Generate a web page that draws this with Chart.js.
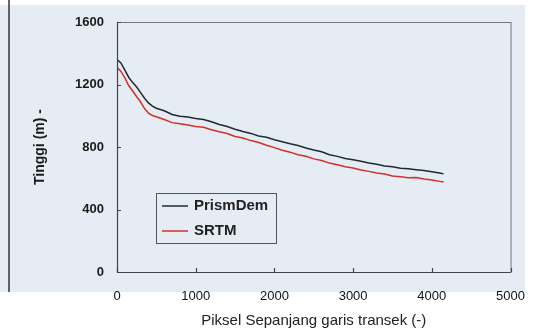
<!DOCTYPE html>
<html>
<head>
<meta charset="utf-8">
<script src="https://cdn.jsdelivr.net/npm/chart.js@4"></script>
<style>
  html, body { margin: 0; padding: 0; background: #fff; }
  #wrap { width: 542px; height: 335px; }
</style>
</head>
<body>
<div id="wrap"><canvas id="chart" width="542" height="335"></canvas></div>
<script>
// pixel positions along the transect
const pixelPos = [0, 50, 100, 150, 200, 250, 300, 350, 400, 450, 500, 600, 700, 800, 900, 1000,
    1100, 1200, 1300, 1400, 1500, 1600, 1700, 1800, 1900, 2000, 2100, 2200, 2300, 2400, 2500,
    2600, 2700, 2800, 2900, 3000, 3100, 3200, 3300, 3400, 3500, 3600, 3700, 3800, 3900, 4000,
    4100, 4150];

// elevation (m)
const prismDem = [1360, 1338, 1292, 1245, 1212, 1184, 1148, 1112, 1082, 1062, 1048, 1032, 1008, 997,
    992, 983, 976, 962, 944, 931, 914, 899, 887, 871, 862, 846, 834, 821, 810, 794, 781,
    770, 751, 740, 727, 718, 709, 698, 690, 679, 673, 664, 661, 655, 649, 641, 633, 628];

const srtm = [1310, 1284, 1242, 1192, 1158, 1122, 1088, 1046, 1016, 1002, 994, 976, 956, 949,
    941, 931, 926, 911, 897, 886, 867, 857, 841, 829, 811, 796, 779, 767, 751, 741, 724,
    713, 697, 686, 673, 665, 653, 644, 633, 627, 615, 609, 603, 604, 595, 589, 580, 576];

const xTicks = [0, 1000, 2000, 3000, 4000, 5000];
const yTicks = [0, 400, 800, 1200, 1600];

const seriesNames = ['PrismDem', 'SRTM'];
const seriesColors = ['#1f2b31', '#d2302b'];

function toPoints(values) {
    return pixelPos.map((x, i) => ({ x: x, y: values[i] }));
}

// page background, scan margin line
const pagePlugin = {
    id: 'page',
    beforeDraw(chart) {
        const ctx = chart.ctx;
        ctx.save();
        ctx.fillStyle = '#ffffff';
        ctx.fillRect(0, 0, chart.width, chart.height);
        ctx.fillStyle = '#e5ecf4';
        ctx.fillRect(0, 5, 525, 287);
        ctx.strokeStyle = '#333';
        ctx.lineWidth = 1.5;
        ctx.beginPath();
        ctx.moveTo(9, 0);
        ctx.lineTo(9, 292);
        ctx.stroke();
        ctx.restore();
    }
};

// frame, inward ticks and legend box
const framePlugin = {
    id: 'frame',
    afterDraw(chart) {
        const ctx = chart.ctx;
        const a = chart.chartArea;
        const xs = chart.scales.x;
        const ys = chart.scales.y;
        ctx.save();
        ctx.strokeStyle = '#777';
        ctx.lineWidth = 1;
        ctx.strokeRect(a.left + 0.5, a.top + 0.5, a.right - a.left, a.bottom - a.top);
        ctx.strokeStyle = '#444';
        ctx.lineWidth = 1.2;
        ctx.beginPath();
        ctx.moveTo(a.left + 0.5, a.top);
        ctx.lineTo(a.left + 0.5, a.bottom + 0.5);
        ctx.lineTo(a.right, a.bottom + 0.5);
        ctx.stroke();
        ctx.beginPath();
        yTicks.forEach(v => {
            const y = Math.round(ys.getPixelForValue(v)) + 0.5;
            ctx.moveTo(a.left, y);
            ctx.lineTo(a.left + 4, y);
        });
        xTicks.forEach(v => {
            const x = Math.round(xs.getPixelForValue(v)) + 0.5;
            ctx.moveTo(x, a.bottom);
            ctx.lineTo(x, a.bottom - 4);
        });
        ctx.stroke();

        // legend
        const lx = a.left + 39, ly = a.top + 171;
        ctx.strokeStyle = '#555';
        ctx.lineWidth = 1;
        ctx.strokeRect(lx + 0.5, ly + 0.5, 120, 50);
        ctx.font = 'bold 15px "Liberation Sans", Arial, sans-serif';
        ctx.textBaseline = 'middle';
        seriesNames.forEach((name, i) => {
            const yy = ly + 13 + i * 25;
            ctx.strokeStyle = seriesColors[i];
            ctx.lineWidth = 1.5;
            ctx.beginPath();
            ctx.moveTo(lx + 6, yy);
            ctx.lineTo(lx + 32, yy);
            ctx.stroke();
            ctx.fillStyle = '#222';
            ctx.fillText(name, lx + 38, yy);
        });
        ctx.restore();
    }
};

new Chart(document.getElementById('chart'), {
    type: 'line',
    data: {
        datasets: [
            {
                label: seriesNames[0],
                data: toPoints(prismDem),
                borderColor: seriesColors[0],
                borderWidth: 1.5,
                pointRadius: 0,
                tension: 0
            },
            {
                label: seriesNames[1],
                data: toPoints(srtm),
                borderColor: seriesColors[1],
                borderWidth: 1.5,
                pointRadius: 0,
                tension: 0
            }
        ]
    },
    options: {
        responsive: false,
        animation: false,
        layout: { padding: { top: 22, right: 31, left: 0, bottom: 0 } },
        plugins: {
            legend: { display: false },
            tooltip: { enabled: false }
        },
        scales: {
            x: {
                type: 'linear',
                min: 0,
                max: 5000,
                afterBuildTicks: s => { s.ticks = xTicks.map(v => ({ value: v })); },
                afterFit: s => { s.height = 63; },
                grid: { display: false, drawTicks: false },
                border: { display: false },
                ticks: {
                    padding: 17,
                    color: '#111',
                    callback: v => String(v),
                    font: { family: '"Liberation Sans", Arial, sans-serif', size: 13 }
                },
                title: {
                    display: true,
                    text: 'Piksel Sepanjang garis transek (-)',
                    color: '#222',
                    padding: { top: 0, bottom: 5 },
                    font: { family: '"Liberation Sans", Arial, sans-serif', size: 15 }
                }
            },
            y: {
                min: 0,
                max: 1600,
                afterBuildTicks: s => { s.ticks = yTicks.map(v => ({ value: v })); },
                afterFit: s => { s.width = 117; },
                grid: { display: false, drawTicks: false },
                border: { display: false },
                ticks: {
                    padding: 13,
                    color: '#1a1a1a',
                    callback: v => String(v),
                    font: { family: '"Liberation Sans", Arial, sans-serif', size: 13, weight: 'bold' }
                },
                title: {
                    display: true,
                    text: 'Tinggi (m) -',
                    color: '#1a1a1a',
                    padding: { top: 32, bottom: 0 },
                    font: { family: '"Liberation Sans", Arial, sans-serif', size: 14, weight: 'bold' }
                }
            }
        }
    },
    plugins: [pagePlugin, framePlugin]
});
</script>
</body>
</html>
